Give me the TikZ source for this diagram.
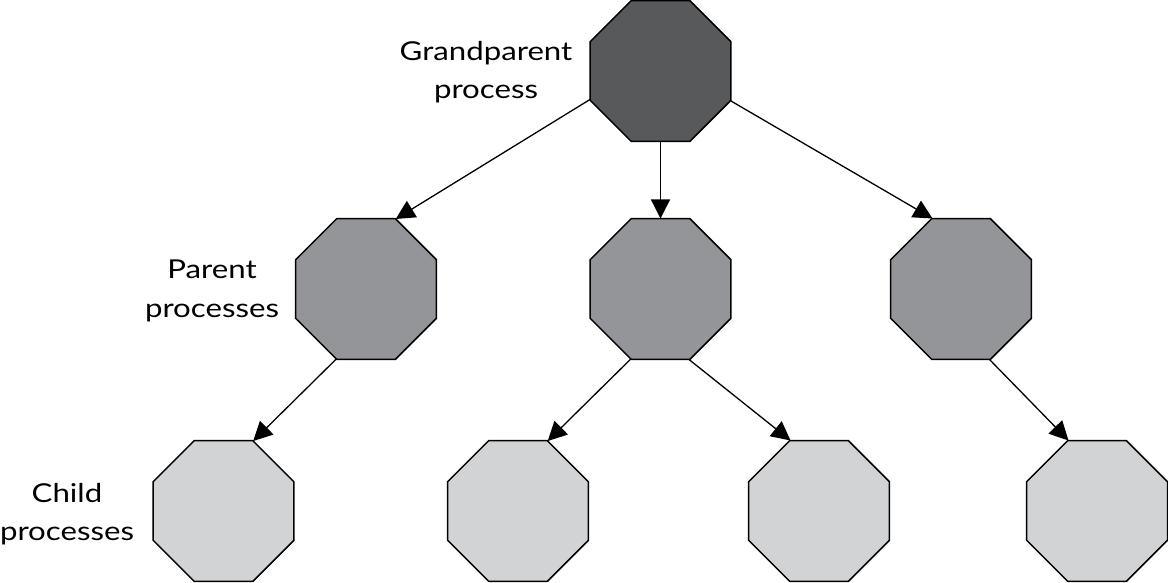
\documentclass[tikz,border=0pt]{standalone}
\usepackage{fontspec}
\setmainfont{Lato}[FakeStretch=1.2]
\usetikzlibrary{shapes.geometric,arrows.meta}
\definecolor{gdark}{HTML}{58595B}
\definecolor{gmid}{HTML}{939598}
\definecolor{glight}{HTML}{D1D3D4}
\begin{document}
\begin{tikzpicture}[x=1pt,y=-1pt,
  oct/.style={regular polygon,regular polygon sides=8,minimum size=152.6pt,inner sep=0pt,outer sep=0pt,draw=black,line width=1.5pt},
  conn/.style={line width=1.3pt,-{Triangle[length=19pt,width=19pt]},shorten >=0pt},
  lbl/.style={font=\fontsize{26}{38.5}\selectfont,align=center,inner sep=0pt}]
\useasboundingbox (0,0) rectangle (1168,583);
\node[oct,fill=gdark] (g) at (660.5,71) {};
\node[oct,fill=gmid] (p1) at (366,289) {};
\node[oct,fill=gmid] (p2) at (660.5,289) {};
\node[oct,fill=gmid] (p3) at (961,289) {};
\node[oct,fill=glight] (c1) at (223.5,511) {};
\node[oct,fill=glight] (c2) at (518,511) {};
\node[oct,fill=glight] (c3) at (819,511) {};
\node[oct,fill=glight] (c4) at (1097,511) {};
\draw[conn] (g.202.5) -- (p1.67.5);
\draw[conn] (g.south) -- (p2.north);
\draw[conn] (g.337.5) -- (p3.112.5);
\draw[conn] (p1.247.5) -- (c1.67.5);
\draw[conn] (p2.247.5) -- (c2.67.5);
\draw[conn] (p2.292.5) -- (c3.112.5);
\draw[conn] (p3.292.5) -- (c4.112.5);
\node[lbl] (tg) at (486,72) {Grandparent\\process};
\node[lbl] (tp) at (212,291) {Parent\\processes};
\node[lbl] (tc) at (67,514) {Child\\processes};
\end{tikzpicture}
\end{document}
